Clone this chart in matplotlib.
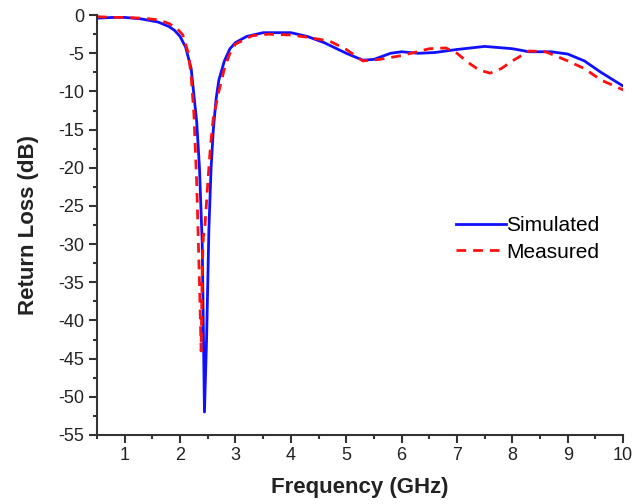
import matplotlib
matplotlib.use("Agg")
import matplotlib.pyplot as plt
from matplotlib.ticker import MultipleLocator

plt.rcParams['font.family'] = ['Liberation Sans', 'DejaVu Sans']
plt.rcParams['axes.unicode_minus'] = False

# Simulated return loss (GHz, dB)
sim_freq = [0.5, 0.8, 1.0, 1.3, 1.6, 1.8, 1.9, 2.0, 2.1, 2.2, 2.3, 2.35, 2.4,
            2.44, 2.48, 2.52, 2.56, 2.6, 2.65, 2.7, 2.8, 2.9, 3.0, 3.2, 3.5,
            3.8, 4.0, 4.3, 4.6, 5.0, 5.3, 5.5, 5.8, 6.0, 6.3, 6.6, 7.0, 7.5,
            8.0, 8.3, 8.7, 9.0, 9.3, 9.6, 10.0]
sim_db = [-0.4, -0.3, -0.3, -0.5, -0.9, -1.5, -2.0, -2.8, -4.2, -7.0, -14.0,
          -20.0, -30.0, -52.0, -42.0, -28.0, -20.0, -15.0, -11.0, -8.5, -6.0,
          -4.4, -3.6, -2.8, -2.3, -2.3, -2.3, -2.8, -3.6, -5.0, -5.9, -5.8,
          -5.0, -4.8, -5.0, -4.9, -4.5, -4.1, -4.4, -4.8, -4.8, -5.1, -6.0,
          -7.5, -9.3]

# Measured return loss (GHz, dB)
meas_freq = [0.5, 0.8, 1.0, 1.3, 1.6, 1.8, 1.95, 2.05, 2.15, 2.2, 2.25, 2.3,
             2.35, 2.38, 2.4, 2.42, 2.45, 2.5, 2.55, 2.6, 2.7, 2.8, 2.9, 3.0,
             3.3, 3.6, 4.0, 4.3, 4.7, 5.0, 5.3, 5.6, 6.0, 6.5, 6.8, 7.0, 7.2,
             7.4, 7.6, 7.8, 8.0, 8.3, 8.6, 9.0, 9.3, 9.6, 10.0]
meas_db = [-0.2, -0.3, -0.3, -0.4, -0.6, -1.1, -1.8, -2.6, -5.0, -8.0, -13.0,
           -22.0, -35.0, -44.0, -33.0, -29.0, -27.5, -22.0, -17.0, -13.5,
           -10.0, -7.0, -5.0, -3.8, -2.7, -2.5, -2.6, -2.9, -3.4, -4.5, -6.0,
           -5.8, -5.3, -4.4, -4.3, -5.0, -6.2, -7.2, -7.6, -7.0, -6.0, -4.7,
           -4.8, -6.0, -7.0, -8.5, -9.8]

fig = plt.figure(figsize=(6.32, 5.04), dpi=100)
ax = fig.add_axes([0.1535, 0.137, 0.8325, 0.833])

ax.plot(sim_freq, sim_db, color='#1010ff', lw=2, label='Simulated')
ax.plot(meas_freq, meas_db, color='#ff1010', lw=2, ls=(0, (3.5, 2.5)),
        label='Measured')

ax.set_xlim(0.5, 10)
ax.set_ylim(-55, 0)
ax.xaxis.set_major_locator(MultipleLocator(1))
ax.xaxis.set_minor_locator(MultipleLocator(0.5))
ax.yaxis.set_major_locator(MultipleLocator(5))
ax.yaxis.set_minor_locator(MultipleLocator(2.5))

for side in ['top', 'right']:
    ax.spines[side].set_visible(False)
for side in ['left', 'bottom']:
    ax.spines[side].set_linewidth(1.5)
    ax.spines[side].set_color('#333333')

ax.tick_params(which='major', direction='out', length=6, width=1.5,
               color='#333333', labelsize=13, pad=3, labelcolor='#222222')
ax.tick_params(which='minor', direction='out', length=3, width=1.5,
               color='#333333')

ax.set_xlabel('Frequency (GHz)', fontsize=16, fontweight='bold', labelpad=9,
              color='#222222')
ax.set_ylabel('Return Loss (dB)', fontsize=16, fontweight='bold', labelpad=14,
              color='#222222')

ax.legend(loc='upper left', bbox_to_anchor=(0.647, 0.565), frameon=False,
          fontsize=15, handlelength=2.4, handletextpad=0.0,
          labelspacing=0.35)

fig.savefig('out.png', dpi=100)
